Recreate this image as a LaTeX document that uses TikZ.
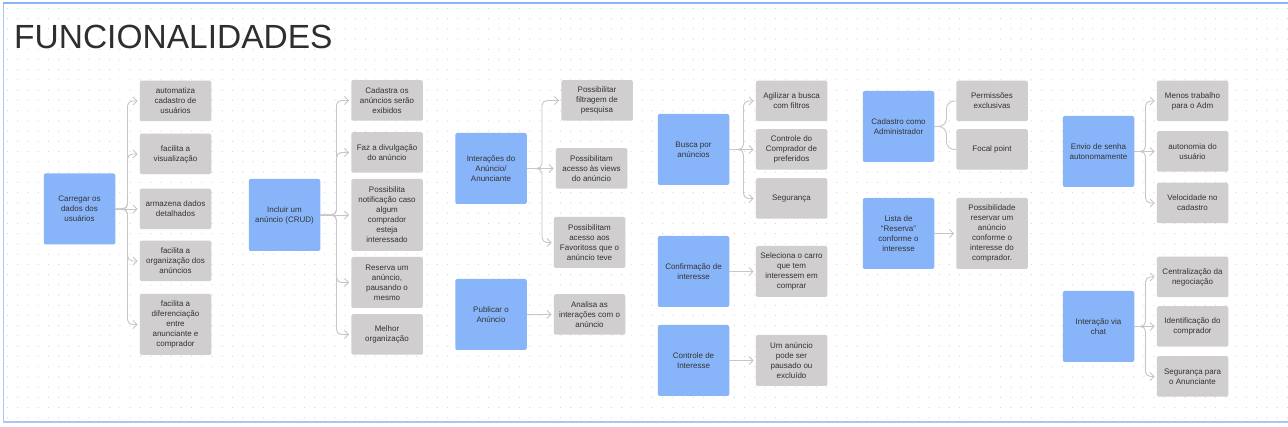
\documentclass[tikz,border=0pt]{standalone}
\usepackage{fontspec}
\setmainfont{Liberation Sans}
\usetikzlibrary{arrows.meta}
\definecolor{boxblue}{HTML}{88B5FA}
\definecolor{boxgray}{HTML}{D0CECE}
\definecolor{txt}{HTML}{333333}
\definecolor{titlec}{HTML}{2E2E2E}
\definecolor{linec}{HTML}{C6C6C6}
\definecolor{framec}{HTML}{A9C6F7}
\definecolor{framet}{HTML}{8AB4F8}
\definecolor{dotc}{HTML}{D8D8D8}
\begin{document}
\begin{tikzpicture}[x=1pt,y=-1pt,
  bbox/.style={fill=boxblue, rounded corners=2pt, minimum width=71.5pt, minimum height=71pt, inner sep=0pt, align=center, text=txt, font=\fontsize{8}{10}\selectfont},
  gbox/.style={fill=boxgray, rounded corners=1.5pt, minimum width=71.5pt, minimum height=40.5pt, inner sep=0pt, align=center, text=txt, font=\fontsize{8}{10}\selectfont},
  conn/.style={draw=linec, line width=0.9pt, rounded corners=5pt, -{Straight Barb[length=4pt,width=8pt]}, shorten >=2pt},
  brace/.style={draw=linec, line width=0.9pt, rounded corners=8pt}
]
\useasboundingbox (0,0) rectangle (1288,427);
\fill[white] (0,0) rectangle (1288,427);
% dotted grid
\fill[dotc] \foreach \i in {0,...,125} { \foreach \j in {0,...,40} { ({7.3+\i*10.24-0.5},{8.3+\j*10.24-0.5}) rectangle ++(1,1) } };
% frame
\draw[framec, line width=1.4pt] (3.5,3.5) -- (3.5,422) -- (1288,422);
\draw[framet, line width=2pt] (3,3.5) -- (1288,3.5);
% title
\node[anchor=base west, inner sep=0pt, text=titlec, font=\fontsize{33.5}{40}\selectfont] (title) at (14,49) {FUNCIONALIDADES};

% column 1
\node[bbox] (b1) at (79.5,209) {Carregar os\\dados dos\\usuários};
\node[gbox] (g11) at (175.5,101) {automatiza\\cadastro de\\usuários};
\node[gbox] (g12) at (175.5,154) {facilita a\\visualização};
\node[gbox] (g13) at (175.5,209) {armazena dados\\detalhados};
\node[gbox] (g14) at (175.5,261) {facilita a\\organização dos\\anúncios};
\node[gbox, minimum height=61pt] (g15) at (175.5,324.5) {facilita a\\diferenciação\\entre\\anunciante e\\comprador};

% column 2
\node[bbox, minimum height=72pt] (b2) at (284.5,215) {Incluir um\\anúncio (CRUD)};
\node[gbox] (g21) at (387,100.5) {Cadastra os\\anúncios serão\\exibidos};
\node[gbox] (g22) at (387,152.5) {Faz a divulgação\\do anúncio};
\node[gbox, minimum height=72pt] (g23) at (387,215) {Possibilita\\notificação caso\\algum\\comprador\\esteja\\interessado};
\node[gbox, minimum height=51pt] (g24) at (387,282.5) {Reserva um\\anúncio,\\pausando o\\mesmo};
\node[gbox] (g25) at (387,334.5) {Melhor\\organização};

% column 3
\node[bbox] (b3) at (491,168.5) {Interações do\\Anúncio/\\Anunciante};
\node[gbox] (g31) at (597,100.5) {Possibilitar\\filtragem de\\pesquisa};
\node[gbox] (g32) at (591.5,168.5) {Possibilitam\\acesso às views\\do anúncio};
\node[gbox, minimum height=51pt] (g33) at (589.5,242.5) {Possibilitam\\acesso aos\\Favoritoss que o\\anúncio teve};
\node[bbox] (b4) at (491,314.5) {Publicar o\\Anúncio};
\node[gbox] (g41) at (589.5,314.5) {Analisa as\\interações com o\\anúncio};

% column 4
\node[bbox] (b5) at (693.5,149.5) {Busca por\\anúncios};
\node[gbox] (g51) at (791.5,101) {Agilizar a busca\\com filtros};
\node[gbox] (g52) at (791.5,149.5) {Controle do\\Comprador de\\preferidos};
\node[gbox] (g53) at (791.5,198.5) {Segurança};
\node[bbox] (b6) at (693.5,271.5) {Confirmação de\\interesse};
\node[gbox, minimum height=51pt] (g61) at (791.5,271.5) {Seleciona o carro\\que tem\\interessem em\\comprar};
\node[bbox] (b7) at (693.5,360.5) {Controle de\\Interesse};
\node[gbox, minimum height=51pt] (g71) at (791.5,360.5) {Um anúncio\\pode ser\\pausado ou\\excluído};

% column 5
\node[bbox] (b8) at (898.5,126.5) {Cadastro como\\Administrador};
\node[gbox] (g81) at (992,101) {Permissões\\exclusivas};
\node[gbox] (g82) at (992,149.5) {Focal point};
\node[bbox] (b9) at (898.5,233.5) {Lista de\\“Reserva”\\conforme o\\interesse};
\node[gbox, minimum height=71pt] (g91) at (992,233.5) {Possibilidade\\reservar um\\anúncio\\conforme o\\interesse do\\comprador.};

% column 6
\node[bbox] (b10) at (1098.5,151.5) {Envio de senha\\autonomamente};
\node[gbox] (g101) at (1192.5,101) {Menos trabalho\\para o Adm};
\node[gbox] (g102) at (1192.5,151.5) {autonomia do\\usuário};
\node[gbox] (g103) at (1192.5,203) {Velocidade no\\cadastro};
\node[bbox] (b11) at (1098.5,326.5) {Interação via\\chat};
\node[gbox] (g111) at (1192.5,277) {Centralização da\\negociação};
\node[gbox] (g112) at (1192.5,326.5) {Identificação do\\comprador};
\node[gbox] (g113) at (1192.5,376.5) {Segurança para\\o Anunciante};

% connectors
\foreach \c in {g11,g12,g14,g15} \draw[conn] (b1.east) -- ++(12,0) |- (\c.west);
\draw[conn] (b1.east) -- (g13.west);
\foreach \c in {g21,g22,g24,g25} \draw[conn] (b2.east) -- ++(16,0) |- (\c.west);
\draw[conn] (b2.east) -- (g23.west);
\foreach \c in {g31,g33} \draw[conn] (b3.east) -- ++(15,0) |- (\c.west);
\draw[conn] (b3.east) -- (g32.west);
\draw[conn] (b4.east) -- (g41.west);
\foreach \c in {g51,g53} \draw[conn] (b5.east) -- ++(14,0) |- (\c.west);
\draw[conn] (b5.east) -- (g52.west);
\draw[conn] (b6.east) -- (g61.west);
\draw[conn] (b7.east) -- (g71.west);
\foreach \c in {g81,g82} \draw[brace] (b8.east) -- ++(12,0) |- (\c.west);
\draw[conn] (b9.east) -- (g91.west);
\foreach \c in {g101,g103} \draw[conn] (b10.east) -- ++(11,0) |- (\c.west);
\draw[conn] (b10.east) -- (g102.west);
\foreach \c in {g111,g113} \draw[conn] (b11.east) -- ++(11,0) |- (\c.west);
\draw[conn] (b11.east) -- (g112.west);
\end{tikzpicture}
\end{document}
